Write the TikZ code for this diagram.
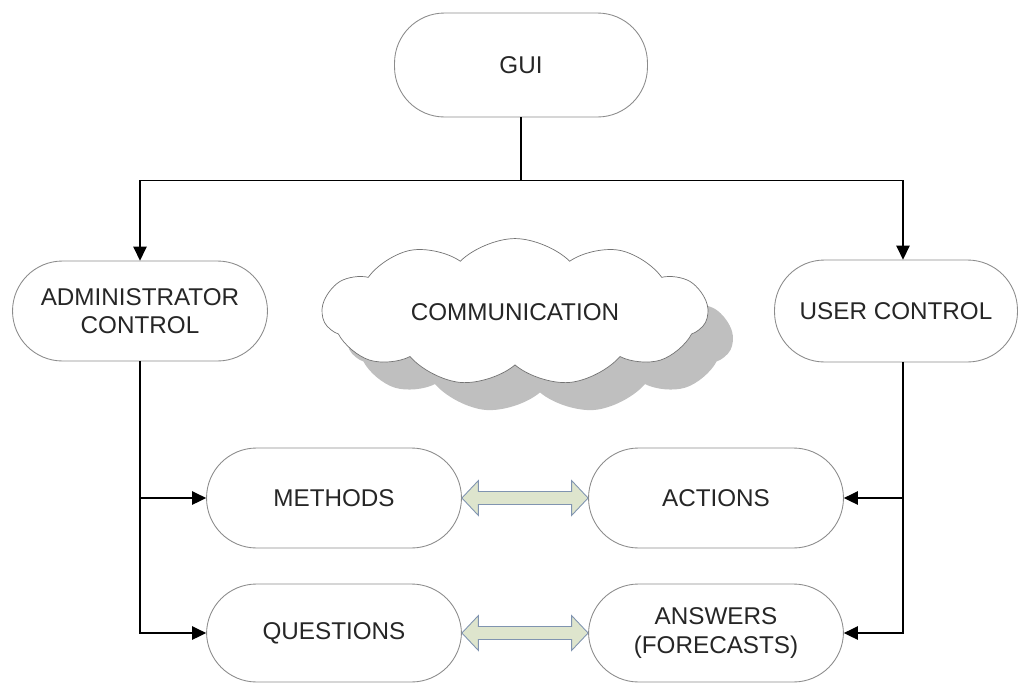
\documentclass[tikz,border=0pt]{standalone}
\usepackage{fontspec}
\setmainfont{Liberation Sans}
\usetikzlibrary{arrows.meta,calc,shapes.symbols,shadows}
\definecolor{sage}{RGB}{222,229,205}
\definecolor{slate}{RGB}{128,148,176}

\begin{document}
\begin{tikzpicture}[x=0.02cm,y=-0.02cm,
  every node/.style={font=\fontsize{13.8}{16}\selectfont, text=black!85},
  pill/.style={draw=black!45, line width=0.5pt, fill=white, rectangle,
    rounded corners=1cm, minimum width=5.1cm, minimum height=2cm, align=center},
  arr/.style={line width=0.8pt, -{Triangle[length=0.28cm,width=0.27cm]}},
  fat/.style={draw=slate, line width=0.5pt, fill=sage},
  cloudbox/.style={cloud, cloud puffs=11, cloud puff arc=90, aspect=2.7,
    draw=black!55, line width=0.4pt, fill=white, minimum width=7.7cm, minimum height=2.8cm,
    drop shadow={shadow xshift=0.5cm, shadow yshift=-0.55cm, fill=black!25, opacity=1}}]
\useasboundingbox (0,0) rectangle (1019,684);

%main boxes
\node[pill, minimum width=5.06cm, minimum height=2.08cm] (gui) at (521,65) {GUI};
\node[pill] (admin) at (140,311) {ADMINISTRATOR\\CONTROL};
\node[pill, minimum width=4.86cm, minimum height=2.04cm] (user) at (896,311) {USER CONTROL};
\node[cloudbox] (comm) at (515,312) {COMMUNICATION};

\node[pill] (methods) at (334,498) {METHODS};
\node[pill] (actions) at (716,498) {ACTIONS};
\node[pill, minimum height=1.96cm] (questions) at (334,633) {QUESTIONS};
\node[pill, minimum height=1.96cm] (answers) at (716,633) {ANSWERS\\(FORECASTS)};

%gui split
\draw[arr] (gui.south) -- ++(0,63) coordinate (split) -| (admin.north);
\draw[arr] (split) -| ([xshift=0.14cm]user.north);

%admin side
\draw[arr] (admin.south) |- (questions.west);
\draw[arr] (admin.south |- methods.west) -- (methods.west);

%user side
\draw[arr] ([xshift=0.14cm]user.south) |- (answers.east);
\draw[arr] ([xshift=0.14cm]user.south |- actions.east) -- (actions.east);

%double arrows
\foreach \l/\r in {methods/actions, questions/answers}{
  \draw[fat] (\l.east) -- ($(\l.east)+(0.33cm,-0.35cm)$) -- ($(\l.east)+(0.33cm,-0.13cm)$)
    -- ($(\r.west)+(-0.33cm,-0.13cm)$) -- ($(\r.west)+(-0.33cm,-0.35cm)$) -- (\r.west)
    -- ($(\r.west)+(-0.33cm,0.35cm)$) -- ($(\r.west)+(-0.33cm,0.13cm)$)
    -- ($(\l.east)+(0.33cm,0.13cm)$) -- ($(\l.east)+(0.33cm,0.35cm)$) -- cycle;
}
\end{tikzpicture}
\end{document}
